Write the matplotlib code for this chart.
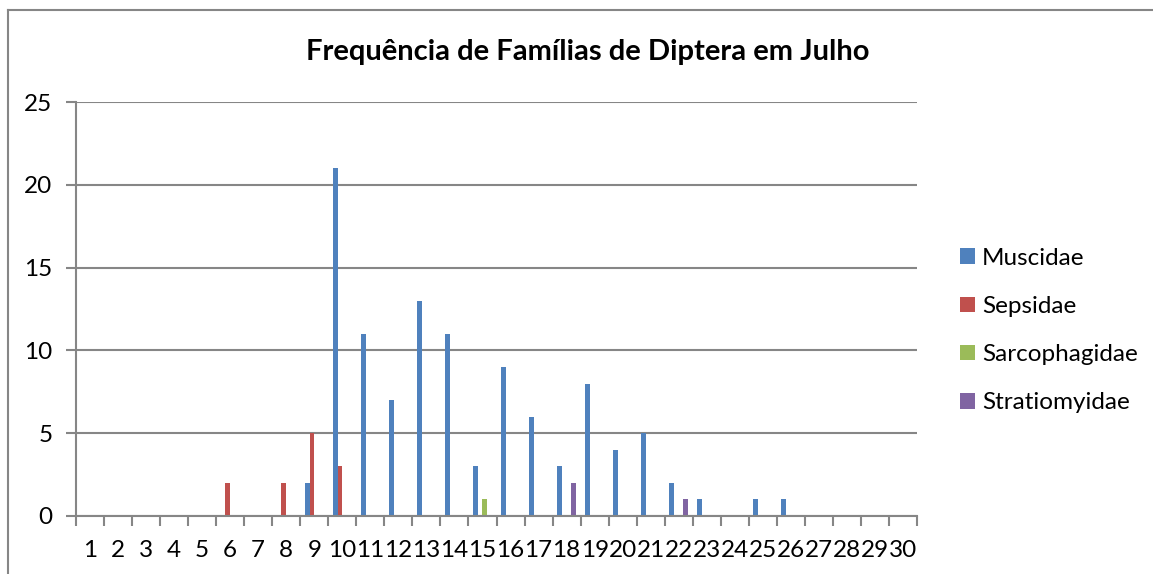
import matplotlib
matplotlib.use("Agg")
import matplotlib.pyplot as plt
from matplotlib.lines import Line2D
import numpy as np

plt.rcParams['font.family'] = ['Lato', 'DejaVu Sans']

# dias de julho
days = list(range(1, 31))
day_labels = [str(d) for d in days]

# contagens por familia (dia -> n)
muscidae = [0, 0, 0, 0, 0, 0, 0, 0, 2, 21, 11, 7, 13, 11, 3, 9, 6, 3, 8, 4,
            5, 2, 1, 0, 1, 1, 0, 0, 0, 0]
sepsidae = [0, 0, 0, 0, 0, 2, 0, 2, 5, 3, 0, 0, 0, 0, 0, 0, 0, 0, 0, 0,
            0, 0, 0, 0, 0, 0, 0, 0, 0, 0]
sarcophagidae = [0, 0, 0, 0, 0, 0, 0, 0, 0, 0, 0, 0, 0, 0, 1, 0, 0, 0, 0, 0,
                 0, 0, 0, 0, 0, 0, 0, 0, 0, 0]
stratiomyidae = [0, 0, 0, 0, 0, 0, 0, 0, 0, 0, 0, 0, 0, 0, 0, 0, 0, 2, 0, 0,
                 0, 1, 0, 0, 0, 0, 0, 0, 0, 0]

series = [("Muscidae", muscidae, "#4F81BD"),
          ("Sepsidae", sepsidae, "#C0504D"),
          ("Sarcophagidae", sarcophagidae, "#9BBB59"),
          ("Stratiomyidae", stratiomyidae, "#8064A2")]

W, H = 1153, 574
fig = plt.figure(figsize=(W / 100, H / 100), dpi=100)
ax = fig.add_axes([76 / W, (H - 516) / H, (917 - 76) / W, (516 - 102) / H])

grid_c = "#868686"
x = np.arange(1, 31)
w = 0.17
for i, (name, vals, col) in enumerate(series):
    ax.bar(x + (i - 1.5) * w, vals, width=w, color=col, label=name, zorder=3)

ax.set_xlim(0.5, 30.5)
ax.set_ylim(0, 25)
ax.set_yticks(range(0, 26, 5))
ax.yaxis.grid(True, color=grid_c, lw=1.5, zorder=0)

# ticks nos limites das categorias, rótulos no centro
ax.set_xticks(np.arange(0.5, 31, 1))
ax.set_xticklabels([])
ax.set_xticks(x, minor=True)
ax.set_xticklabels(day_labels, minor=True)
ax.tick_params(axis='x', which='major', length=7, width=1.5, color=grid_c, direction='out')
ax.tick_params(axis='x', which='minor', length=0, pad=17, labelsize=17.5)
ax.tick_params(axis='y', length=7, width=1.5, color=grid_c, pad=10, labelsize=17.5)

for s in ['top', 'right']:
    ax.spines[s].set_visible(False)
for s in ['left', 'bottom']:
    ax.spines[s].set_color(grid_c)
    ax.spines[s].set_linewidth(1.5)
    ax.spines[s].set_zorder(4)

fig.text(588 / W, 1 - 52 / H, "Frequência de Famílias de Diptera em Julho",
         ha='center', va='center', fontsize=21, fontweight='bold')

ax.legend(loc='upper left', bbox_to_anchor=(950 / W, 1 - 238 / H),
          bbox_transform=fig.transFigure, frameon=False, fontsize=17.5,
          handlelength=0.62, handleheight=0.62, handletextpad=0.3,
          labelspacing=1.12, borderaxespad=0)

# moldura do gráfico
fig.add_artist(Line2D([8 / W, 8 / W], [0, 1 - 10 / H], transform=fig.transFigure,
                      color=grid_c, lw=1.5))
fig.add_artist(Line2D([8 / W, 1], [1 - 10 / H, 1 - 10 / H], transform=fig.transFigure,
                      color=grid_c, lw=1.5))

fig.savefig("out.png", dpi=100)
